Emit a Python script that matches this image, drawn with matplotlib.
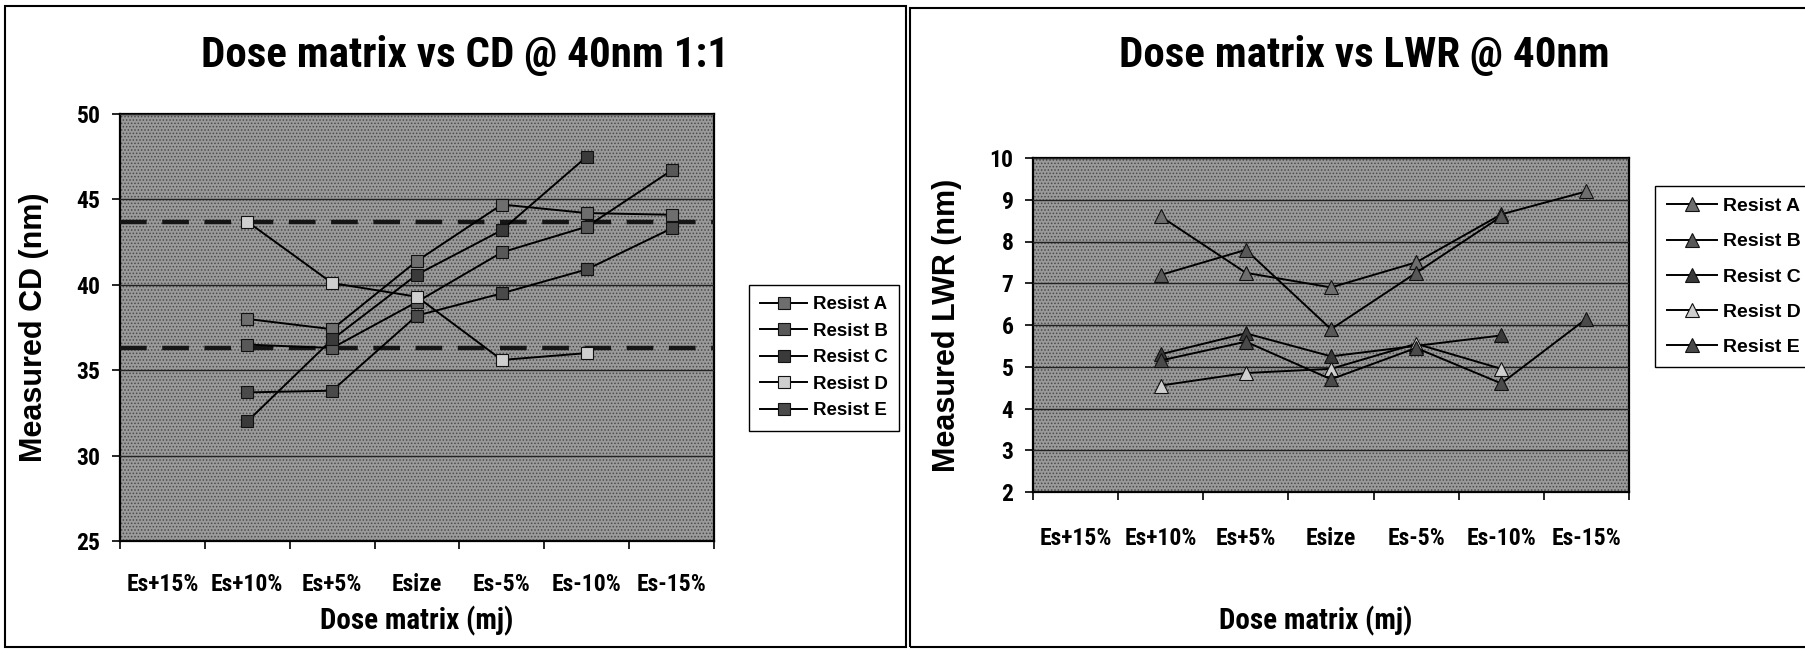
import matplotlib
matplotlib.use("Agg")
import matplotlib.pyplot as plt
from matplotlib import font_manager
from matplotlib.patches import Rectangle
import numpy as np

nan = np.nan

# Categories (dose matrix)
categories = ['Es+15%', 'Es+10%', 'Es+5%', 'Esize', 'Es-5%', 'Es-10%', 'Es-15%']
resists = ['Resist A', 'Resist B', 'Resist C', 'Resist D', 'Resist E']

# Measured CD (nm)
cd_a = [nan, 38.0, 37.4, 41.4, 44.7, 44.2, 44.1]
cd_b = [nan, 36.5, 36.3, 39.0, 41.9, 43.4, 46.7]
cd_c = [nan, 32.0, 36.8, 40.6, 43.2, 47.5, nan]
cd_d = [nan, 43.7, 40.1, 39.3, 35.6, 36.0, nan]
cd_e = [nan, 33.7, 33.8, 38.2, 39.5, 40.9, 43.3]
cd_limits = [43.7, 36.3]

# Measured LWR (nm)
lwr_a = [nan, 8.6, 7.25, 6.9, 7.5, 8.65, 9.2]
lwr_b = [nan, 7.2, 7.8, 5.9, 7.25, 8.6, nan]
lwr_c = [nan, 5.3, 5.8, 5.25, 5.5, 5.75, nan]
lwr_d = [nan, 4.55, 4.85, 4.95, 5.55, 4.95, nan]
lwr_e = [nan, 5.15, 5.6, 4.7, 5.45, 4.6, 6.15]

marker_fill = ['#6e6e6e', '#585858', '#3a3a3a', '#cfcfcf', '#4a4a4a']

installed = {f.name for f in font_manager.fontManager.ttflist}
narrow = 'Liberation Sans'
for name in ['Liberation Sans Narrow', 'DejaVu Sans Condensed', 'Roboto Condensed']:
    if name in installed:
        narrow = name
        break
plt.rcParams['font.family'] = 'Liberation Sans'
plt.rcParams['hatch.linewidth'] = 0.7

W, H = 1805, 649
fig = plt.figure(figsize=(W / 100, H / 100), dpi=100)
fig.set_facecolor('white')


def box(x0, y0, x1, y1):
    # pixel box -> figure fraction [left, bottom, width, height]
    return [x0 / W, 1 - y1 / H, (x1 - x0) / W, (y1 - y0) / H]


def style_axes(ax, yticks, xpad):
    x = np.arange(len(categories))
    ax.set_xlim(-0.5, len(categories) - 0.5)
    ax.set_xticks(np.arange(len(categories) + 1) - 0.5)
    ax.set_xticklabels([])
    ax.set_xticks(x, minor=True)
    ax.set_xticklabels(categories, minor=True, fontsize=17, fontweight='bold', family=narrow)
    ax.tick_params(axis='x', which='major', direction='out', length=6, width=1.2)
    ax.tick_params(axis='x', which='minor', length=0, pad=xpad)
    ax.set_ylim(yticks[0], yticks[-1])
    ax.set_yticks(yticks)
    ax.set_yticklabels([str(t) for t in yticks], fontsize=17, fontweight='bold', family=narrow)
    ax.tick_params(axis='y', direction='out', length=6, width=1.2, pad=8)
    ax.set_facecolor('none')
    bg = Rectangle((0, 0), 1, 1, transform=ax.transAxes, facecolor='#9a9a9a',
                   edgecolor='#4a4a4a', hatch='.....', linewidth=0, zorder=0)
    ax.add_patch(bg)
    ax.grid(axis='y', color='#222222', linewidth=1.0, zorder=1)
    ax.set_axisbelow(False)
    for s in ax.spines.values():
        s.set_color('black')
        s.set_linewidth(1.6)


# ---- left: CD ----
ax1 = fig.add_axes(box(120, 114, 714, 541))
x = np.arange(len(categories))
for name, vals, fc in zip(resists, [cd_a, cd_b, cd_c, cd_d, cd_e], marker_fill):
    ax1.plot(x, vals, color='black', linewidth=1.4, marker='s', markersize=9,
             markerfacecolor=fc, markeredgecolor='#111111', markeredgewidth=0.8,
             label=name, zorder=4)
for lim in cd_limits:
    ax1.axhline(lim, color='#151515', linewidth=3.2, linestyle=(0, (6, 3.5)), zorder=3)
style_axes(ax1, [25, 30, 35, 40, 45, 50], xpad=23)
ax1.set_xlabel('Dose matrix (mj)', fontsize=21, fontweight='bold', family=narrow, labelpad=7)
ax1.set_ylabel('Measured CD (nm)', fontsize=22, fontweight='bold', labelpad=20)
fig.text(465 / W, 1 - 55 / H, 'Dose matrix vs CD @ 40nm 1:1', ha='center', va='center',
         fontsize=31, fontweight='bold', family=narrow)
ax1.legend(loc='upper left', bbox_to_anchor=(749 / W, 1 - 285 / H), bbox_transform=fig.transFigure,
           prop={'weight': 'bold', 'size': 13.5}, frameon=True, fancybox=False,
           edgecolor='black', facecolor='white', framealpha=1, handlelength=2.5,
           handletextpad=0.3, labelspacing=0.5, borderpad=0.6, borderaxespad=0)

# ---- right: LWR ----
ax2 = fig.add_axes(box(1033, 158, 1629, 492))
for name, vals, fc in zip(resists, [lwr_a, lwr_b, lwr_c, lwr_d, lwr_e], marker_fill):
    ax2.plot(x, vals, color='black', linewidth=1.4, marker='^', markersize=10,
             markerfacecolor=fc, markeredgecolor='#111111', markeredgewidth=0.8,
             label=name, zorder=4)
style_axes(ax2, [2, 3, 4, 5, 6, 7, 8, 9, 10], xpad=25)
ax2.set_xlabel('Dose matrix (mj)', fontsize=21, fontweight='bold', family=narrow)
ax2.xaxis.set_label_coords(0.475, -0.34)
ax2.set_ylabel('Measured LWR (nm)', fontsize=22, fontweight='bold', labelpad=20)
fig.text(1364 / W, 1 - 55 / H, 'Dose matrix vs LWR @ 40nm', ha='center', va='center',
         fontsize=31, fontweight='bold', family=narrow)
ax2.legend(loc='upper left', bbox_to_anchor=(1655 / W, 1 - 186 / H), bbox_transform=fig.transFigure,
           prop={'weight': 'bold', 'size': 14}, frameon=True, fancybox=False,
           edgecolor='black', facecolor='white', framealpha=1, handlelength=2.6,
           handletextpad=0.3, labelspacing=0.9, borderpad=0.6, borderaxespad=0)

# panel frames
fig.add_artist(Rectangle((5 / W, 1 - 647 / H), 901 / W, 641 / H, transform=fig.transFigure,
                         fill=False, edgecolor='black', linewidth=1.5))
fig.add_artist(Rectangle((910 / W, 1 - 647 / H), 900 / W, 639 / H, transform=fig.transFigure,
                         fill=False, edgecolor='black', linewidth=1.5))

fig.savefig('out.png', dpi=100, facecolor='white')
